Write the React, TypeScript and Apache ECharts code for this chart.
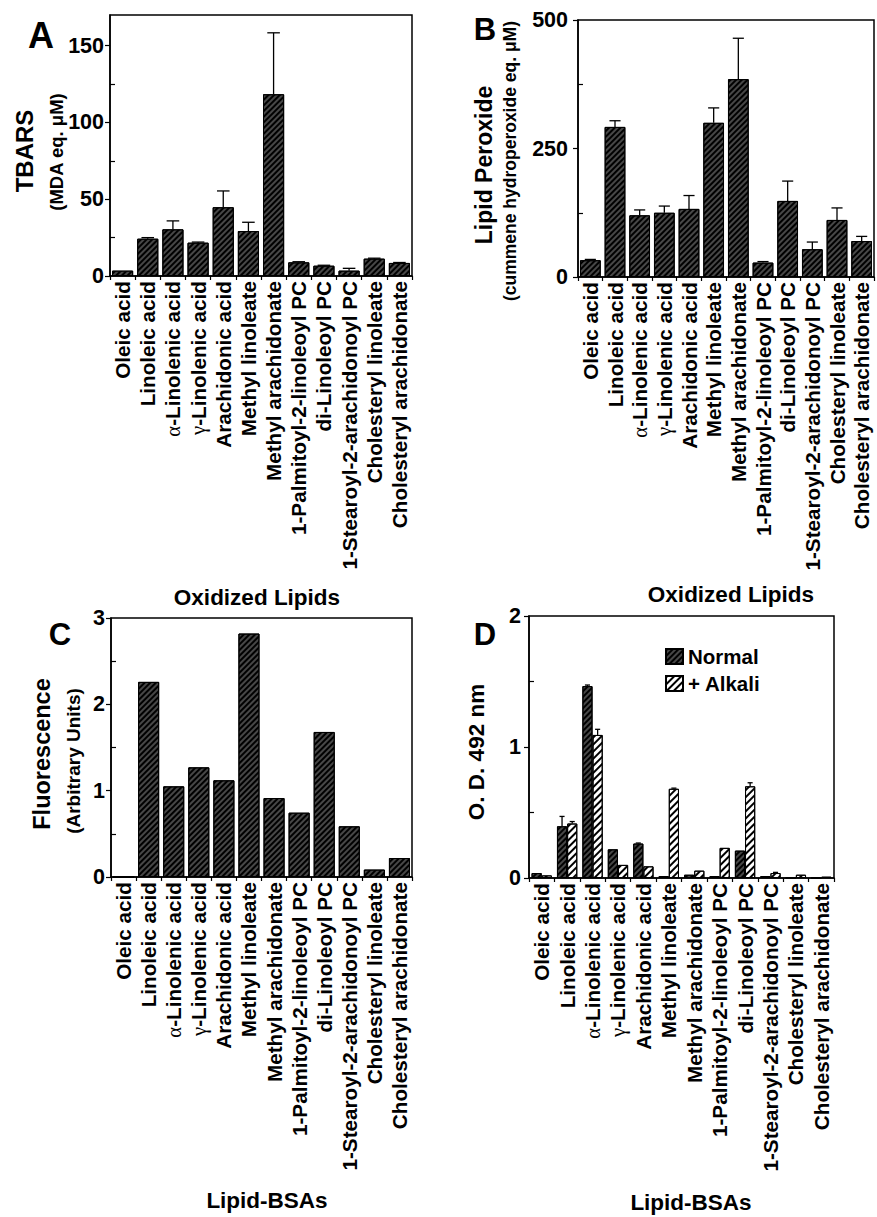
import React, { useEffect, useRef } from 'react';
import * as echarts from 'echarts';

const categories = [
  'Oleic acid',
  'Linoleic acid',
  'α-Linolenic acid',
  'γ-Linolenic acid',
  'Arachidonic acid',
  'Methyl linoleate',
  'Methyl arachidonate',
  '1-Palmitoyl-2-linoleoyl PC',
  'di-Linoleoyl PC',
  '1-Stearoyl-2-arachidonoyl PC',
  'Cholesteryl linoleate',
  'Cholesteryl arachidonate',
];

// Panel A: TBARS
const tbarsValues = [3.5, 24.3, 30.4, 21.7, 44.8, 29.3, 118.4, 8.9, 6.7, 3.5, 11.3, 8.5];
const tbarsErrors = [0, 0.7, 5.5, 0.4, 10.6, 5.7, 40, 0.4, 0.3, 1.5, 0.3, 0.3];
const tbarsTicks = [0, 50, 100, 150];
const tbarsMinorTicks = [25, 75, 125];

// Panel B: Lipid peroxide
const peroxValues = [32.7, 292, 120, 125, 132.5, 300, 385, 28, 148, 54, 111, 70];
const peroxErrors = [1.5, 12, 10.5, 13, 26, 29, 79.5, 2, 38.6, 14, 23.4, 9];
const peroxTicks = [0, 250, 500];
const peroxMinorTicks = [125, 375];

// Panel C: Fluorescence
const fluorValues = [0, 2.26, 1.05, 1.27, 1.12, 2.82, 0.915, 0.745, 1.68, 0.587, 0.086, 0.22];
const fluorTicks = [0, 1, 2, 3];
const fluorMinorTicks = [0.5, 1.5, 2.5];

// Panel D: O.D. 492 nm
const normalValues = [0.038, 0.395, 1.465, 0.219, 0.263, 0.015, 0.025, 0.015, 0.209, 0.015, 0, 0];
const normalErrors = [0, 0.075, 0.008, 0, 0.004, 0, 0, 0, 0, 0, 0, 0];
const alkaliValues = [0.02, 0.416, 1.092, 0.1, 0.089, 0.681, 0.056, 0.23, 0.7, 0.038, 0.025, 0.01];
const alkaliErrors = [0, 0.015, 0.043, 0, 0, 0.005, 0, 0, 0.027, 0.005, 0, 0];
const odTicks = [0, 1, 2];
const odMinorTicks = [0.5, 1.5];

const FONT = '"Liberation Sans", Arial, Helvetica, sans-serif';

const darkStyle = {
  color: '#474747',
  borderColor: '#000',
  borderWidth: 1,
  decal: {
    symbol: 'rect',
    symbolSize: 1,
    dashArrayX: [1, 0],
    dashArrayY: [1.2, 1.8],
    rotation: -Math.PI / 4,
    color: '#000',
  },
};

const lightStyle = {
  color: '#fff',
  borderColor: '#000',
  borderWidth: 1,
  decal: {
    symbol: 'rect',
    symbolSize: 1,
    dashArrayX: [1, 0],
    dashArrayY: [1.4, 2.4],
    rotation: -Math.PI / 4,
    color: '#000',
  },
};

function labelFormatter(v: string) {
  const c = v.charAt(0);
  if (c === 'α' || c === 'γ') return '{g|' + c + '}' + v.slice(1);
  return v;
}

function makeErr(offsetFrac: number, capFrac: number) {
  return (params: any, api: any) => {
    const i = api.value(0);
    const v = api.value(1);
    const e = api.value(2);
    if (!e) return { type: 'group', children: [] };
    const band = api.size([1, 0])[0];
    const top = api.coord([i, v + e]);
    const base = api.coord([i, v]);
    const x = top[0] + offsetFrac * band;
    const cap = (capFrac * band) / 2;
    const st = { stroke: '#000', lineWidth: 1.3 };
    return {
      type: 'group',
      children: [
        { type: 'line', shape: { x1: x, y1: base[1], x2: x, y2: top[1] }, style: st },
        { type: 'line', shape: { x1: x - cap, y1: top[1], x2: x + cap, y2: top[1] }, style: st },
      ],
    };
  };
}

export default function App() {
  const ref = useRef<HTMLDivElement>(null);
  useEffect(() => {
    if (!ref.current) return;
    const chart = echarts.init(ref.current, undefined, { renderer: 'svg' });

    const grids = [
      { left: 110, top: 15, width: 302, height: 261 },
      { left: 578, top: 20, width: 296, height: 257 },
      { left: 111, top: 618, width: 301, height: 259 },
      { left: 529, top: 616, width: 305, height: 262 },
    ];
    const yConf = [
      { max: 170, ticks: tbarsTicks, minor: tbarsMinorTicks, margin: 6 },
      { max: 500, ticks: peroxTicks, minor: peroxMinorTicks, margin: 10 },
      { max: 3, ticks: fluorTicks, minor: fluorMinorTicks, margin: 6 },
      { max: 2, ticks: odTicks, minor: odMinorTicks, margin: 8 },
    ];

    const xAxis = grids.map((_, g) => ({
      gridIndex: g,
      type: 'category',
      data: categories,
      axisLine: { show: true, lineStyle: { color: '#000', width: 1.5 } },
      axisTick: { show: true, length: 4, lineStyle: { color: '#000', width: 1.2 } },
      axisLabel: {
        interval: 0,
        rotate: 90,
        fontSize: 20.7,
        fontWeight: 'bold',
        fontFamily: FONT,
        color: '#000',
        margin: 5,
        formatter: labelFormatter,
        rich: {
          g: { fontFamily: '"Liberation Serif", serif', fontWeight: 'normal', fontSize: 20.7, color: '#000' },
        },
      },
      splitLine: { show: false },
    }));

    const yAxis: any[] = [];
    yConf.forEach((c, g) => {
      yAxis.push({
        gridIndex: g,
        type: 'value',
        position: 'left',
        min: 0,
        max: c.max,
        axisLine: { show: true, lineStyle: { color: '#000', width: 1.5 } },
        axisTick: { show: true, inside: false, length: 5, customValues: c.ticks, lineStyle: { color: '#000', width: 1.2 } },
        axisLabel: {
          customValues: c.ticks,
          fontSize: 21.5,
          fontWeight: 'bold',
          fontFamily: FONT,
          color: '#000',
          margin: c.margin,
        },
        splitLine: { show: false },
      });
      yAxis.push({
        gridIndex: g,
        type: 'value',
        position: 'left',
        min: 0,
        max: c.max,
        axisLine: { show: false },
        axisTick: { show: true, inside: true, length: 5, customValues: c.minor, lineStyle: { color: '#000', width: 1.2 } },
        axisLabel: { show: false },
        splitLine: { show: false },
      });
    });

    const errData = (vals: number[], errs: number[]) => vals.map((v, i) => [i, v, errs[i]]);

    const series: any[] = [
      {
        name: 'TBARS',
        type: 'bar',
        xAxisIndex: 0,
        yAxisIndex: 0,
        data: tbarsValues,
        barCategoryGap: '16%',
        itemStyle: darkStyle,
      },
      {
        type: 'custom',
        xAxisIndex: 0,
        yAxisIndex: 0,
        z: 5,
        data: errData(tbarsValues, tbarsErrors),
        encode: { x: 0, y: 1 },
        renderItem: makeErr(0, 0.5),
      },
      {
        name: 'Lipid Peroxide',
        type: 'bar',
        xAxisIndex: 1,
        yAxisIndex: 2,
        data: peroxValues,
        barCategoryGap: '16%',
        itemStyle: darkStyle,
      },
      {
        type: 'custom',
        xAxisIndex: 1,
        yAxisIndex: 2,
        z: 5,
        data: errData(peroxValues, peroxErrors),
        encode: { x: 0, y: 1 },
        renderItem: makeErr(0, 0.45),
      },
      {
        name: 'Fluorescence',
        type: 'bar',
        xAxisIndex: 2,
        yAxisIndex: 4,
        data: fluorValues,
        barCategoryGap: '16%',
        itemStyle: darkStyle,
      },
      {
        name: 'Normal',
        type: 'bar',
        xAxisIndex: 3,
        yAxisIndex: 6,
        data: normalValues,
        barCategoryGap: '20%',
        barGap: '0%',
        itemStyle: darkStyle,
      },
      {
        name: '+ Alkali',
        type: 'bar',
        xAxisIndex: 3,
        yAxisIndex: 6,
        data: alkaliValues,
        barCategoryGap: '20%',
        barGap: '0%',
        itemStyle: lightStyle,
      },
      {
        type: 'custom',
        xAxisIndex: 3,
        yAxisIndex: 6,
        z: 5,
        data: errData(normalValues, normalErrors),
        encode: { x: 0, y: 1 },
        renderItem: makeErr(-0.2, 0.2),
      },
      {
        type: 'custom',
        xAxisIndex: 3,
        yAxisIndex: 6,
        z: 5,
        data: errData(alkaliValues, alkaliErrors),
        encode: { x: 0, y: 1 },
        renderItem: makeErr(0.2, 0.2),
      },
    ];

    const txt = (text: string, x: number, y: number, size: number, rot = 0, weight: any = 'bold') => ({
      type: 'text',
      x,
      y,
      rotation: rot,
      style: {
        text,
        fill: '#000',
        font: `${weight} ${size}px ${FONT}`,
        textAlign: 'center',
        textVerticalAlign: 'middle',
      },
    });
    const R = Math.PI / 2;

    const graphic = [
      txt('A', 41, 35, 36, 0, 900),
      txt('B', 485, 29, 31, 0, 900),
      txt('C', 60, 634, 31, 0, 900),
      txt('D', 485, 634, 31, 0, 900),
      txt('TBARS', 24, 151, 24, R),
      txt('(MDA eq. μM)', 56, 152, 18.5, R),
      txt('Lipid Peroxide', 484, 165, 23, R),
      txt('(cummene hydroperoxide eq. μM)', 510, 161, 17.5, R),
      txt('Fluorescence', 42, 754, 23.5, R),
      txt('(Arbitrary Units)', 73, 761, 19, R),
      txt('O. D. 492 nm', 476, 752, 22.5, R),
      txt('Oxidized Lipids', 257, 597, 22.5),
      txt('Oxidized Lipids', 731, 594, 22.5),
      txt('Lipid-BSAs', 267, 1200, 22.5),
      txt('Lipid-BSAs', 691, 1202, 22.5),
    ];

    chart.setOption({
      animation: false,
      backgroundColor: '#fff',
      aria: { enabled: true, decal: { show: true } },
      textStyle: { fontFamily: FONT },
      grid: grids.map((g) => ({
        ...g,
        show: true,
        borderColor: '#000',
        borderWidth: 1.5,
        backgroundColor: 'transparent',
        containLabel: false,
      })),
      legend: {
        data: ['Normal', '+ Alkali'],
        orient: 'vertical',
        left: 660,
        top: 641,
        itemWidth: 17,
        itemHeight: 15,
        itemGap: 6,
        icon: 'rect',
        selectedMode: false,
        textStyle: { fontSize: 20.5, fontWeight: 'bold', color: '#000', fontFamily: FONT },
      },
      xAxis,
      yAxis,
      series,
      graphic,
    });

    return () => chart.dispose();
  }, []);

  return (
    <div
      ref={ref}
      style={{ position: 'absolute', left: 0, top: 0, width: 877, height: 1217, background: '#fff' }}
    />
  );
}
